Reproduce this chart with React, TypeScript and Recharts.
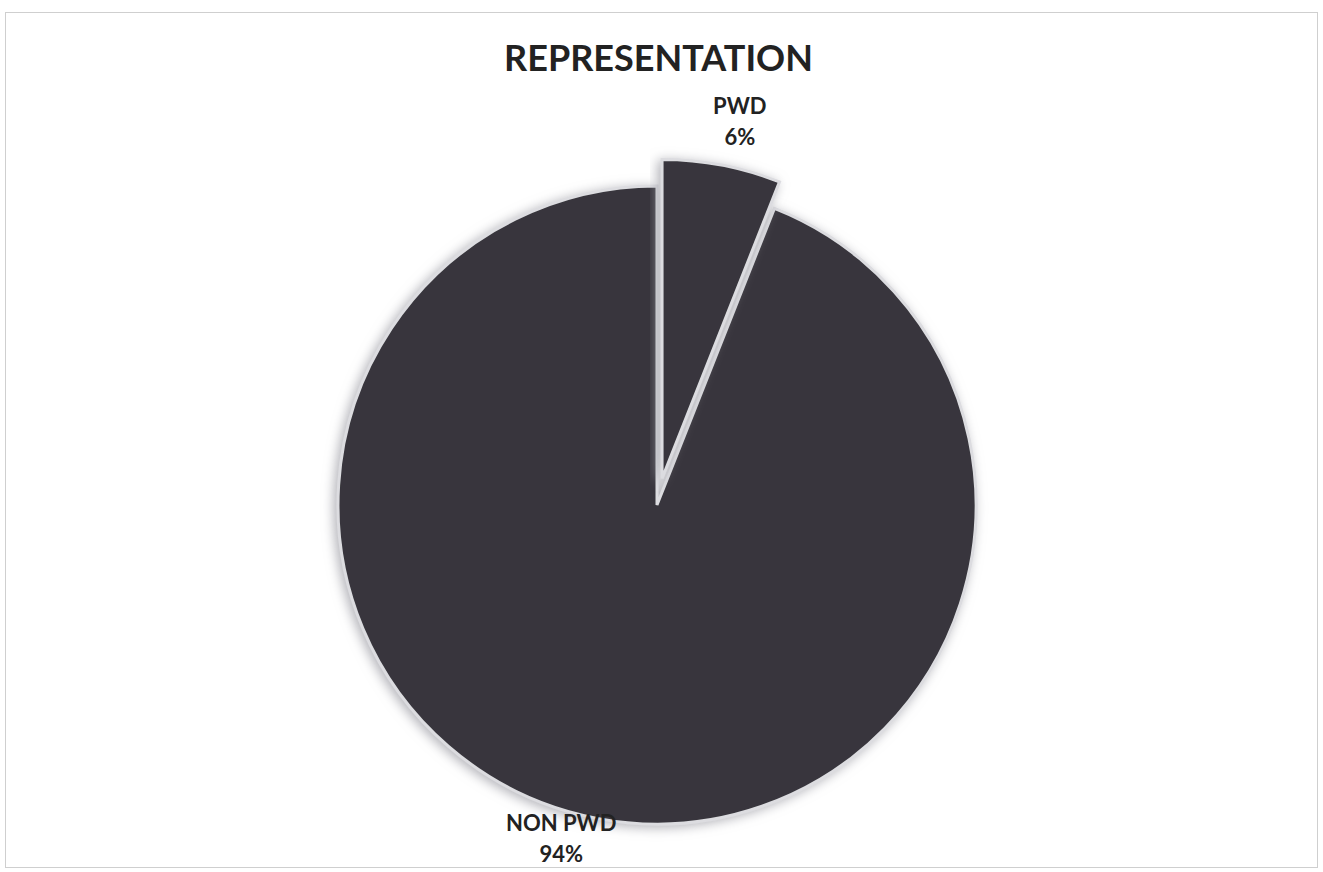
import { Cell, Pie, PieChart } from "recharts";

// Share of representation, in percent.
const categories = ["PWD", "NON PWD"];
const shares = [6, 94];

// Which slice is pulled out of the pie.
const explodedCategory = "PWD";

const data = categories.map((name, i) => ({ name, value: shares[i] }));

const SLICE_FILL = "#37363c";
const SLICE_EDGE = "#dcdce0";
const INK = "#222222";
const FONT = "Lato, 'Open Sans', sans-serif";

const WIDTH = 1311;
const HEIGHT = 854;
const CX = 646;
const CY = 487;
const RADIUS = 319;
const EXPLODE = 27;

// Label nudges (px) relative to each slice's outer edge at its mid angle.
const labelNudge: Record<string, { dx: number; dy: number }> = {
  PWD: { dx: 18, dy: -51 },
  "NON PWD": { dx: -36, dy: 13 },
};

const RAD = Math.PI / 180;

function renderLabel(only: string) {
  return (props: any) => {
    const { cx, cy, midAngle, outerRadius, name, percent } = props;
    if (name !== only) return null;
    const x = cx + outerRadius * Math.cos(-midAngle * RAD) + labelNudge[name].dx;
    const y = cy + outerRadius * Math.sin(-midAngle * RAD) + labelNudge[name].dy;
    return (
      <text
        x={x}
        y={y}
        textAnchor="middle"
        fill={INK}
        fontFamily={FONT}
        fontWeight={700}
        fontSize={22}
      >
        <tspan x={x} dy="0">
          {name}
        </tspan>
        <tspan x={x} dy="31">
          {`${Math.round(percent * 100)}%`}
        </tspan>
      </text>
    );
  };
}

// Mid angle of the exploded slice, Recharts convention (0° = 3 o'clock, CCW).
const total = shares.reduce((a, b) => a + b, 0);
const before = shares
  .slice(0, categories.indexOf(explodedCategory))
  .reduce((a, b) => a + b, 0);
const explodedMid =
  90 - ((before + shares[categories.indexOf(explodedCategory)] / 2) / total) * 360;
const offX = EXPLODE * Math.cos(explodedMid * RAD);
const offY = -EXPLODE * Math.sin(explodedMid * RAD);

export default function App() {
  return (
    <div
      style={{
        position: "absolute",
        left: 5,
        top: 12,
        width: WIDTH,
        height: HEIGHT,
        border: "1px solid #cfcfcf",
        background: "#ffffff",
      }}
    >
      <div
        style={{
          position: "absolute",
          left: 0,
          right: 0,
          top: 22,
          textAlign: "center",
          fontFamily: FONT,
          fontWeight: 700,
          fontSize: 36,
          color: INK,
          paddingRight: 6,
        }}
      >
        REPRESENTATION
      </div>
      <PieChart width={WIDTH} height={HEIGHT}>
        <defs>
          <filter id="halo" x="-10%" y="-10%" width="120%" height="120%">
            <feDropShadow dx="-3" dy="2" stdDeviation="6" floodColor="#a4a4ac" floodOpacity="0.85" />
          </filter>
        </defs>
        <Pie
          data={data}
          dataKey="value"
          nameKey="name"
          cx={CX}
          cy={CY}
          outerRadius={RADIUS}
          startAngle={90}
          endAngle={-270}
          stroke={SLICE_EDGE}
          strokeWidth={3}
          label={renderLabel("NON PWD")}
          labelLine={false}
          isAnimationActive={false}
          style={{ filter: "url(#halo)" }}
        >
          {data.map((d) => (
            <Cell
              key={d.name}
              fill={d.name === explodedCategory ? "none" : SLICE_FILL}
              stroke={d.name === explodedCategory ? "none" : SLICE_EDGE}
            />
          ))}
        </Pie>
        <Pie
          data={data}
          dataKey="value"
          nameKey="name"
          cx={CX + offX}
          cy={CY + offY}
          outerRadius={RADIUS}
          startAngle={90}
          endAngle={-270}
          stroke={SLICE_EDGE}
          strokeWidth={3}
          label={renderLabel(explodedCategory)}
          labelLine={false}
          isAnimationActive={false}
          style={{ filter: "url(#halo)" }}
        >
          {data.map((d) => (
            <Cell
              key={d.name}
              fill={d.name === explodedCategory ? SLICE_FILL : "none"}
              stroke={d.name === explodedCategory ? SLICE_EDGE : "none"}
            />
          ))}
        </Pie>
      </PieChart>
    </div>
  );
}
